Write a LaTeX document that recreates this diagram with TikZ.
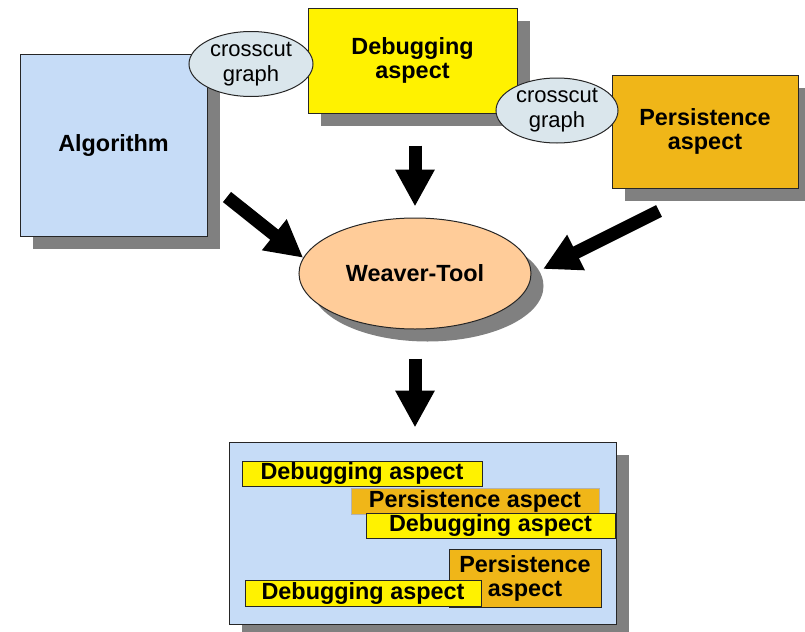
\documentclass[tikz,border=0pt]{standalone}
\usepackage{fontspec}
\setmainfont{Liberation Sans}
\usetikzlibrary{arrows.meta,shapes.geometric,shadows}
\definecolor{algblue}{RGB}{198,220,247}
\definecolor{cutgray}{RGB}{218,230,236}
\definecolor{persorange}{RGB}{240,182,24}
\definecolor{weavepeach}{RGB}{255,204,153}
\definecolor{shadowgray}{RGB}{128,128,128}

\begin{document}
\begin{tikzpicture}[x=0.5pt,y=-0.5pt,line cap=butt,
  font=\fontsize{11.7}{12}\selectfont\bfseries,
  box/.style={draw=black!85,line width=0.5pt,inner sep=0pt,align=center,
    drop shadow={shadow xshift=6.25pt,shadow yshift=-6.25pt,fill=shadowgray,opacity=1}},
  cut/.style={ellipse,draw=black!85,fill=cutgray,line width=0.5pt,inner sep=0pt,align=center,
    font=\fontsize{11}{12.5}\selectfont\mdseries},
  tag/.style={draw=black!85,line width=0.5pt,inner sep=0pt,align=center},
  bigarrow/.style={line width=6.5pt,-{Triangle[length=18.5pt,width=18.5pt]}}]
\useasboundingbox (0,0) rectangle (805,632);
% inputs
\node[box,fill=algblue,minimum width=93.5pt,minimum height=91pt] (algo) at (113.5,145) {Algorithm};
\node[box,fill=yellow,minimum width=104.5pt,minimum height=52.5pt] (dbg) at (412.5,60.5) {Debugging\\aspect};
\node[box,fill=persorange,minimum width=93pt,minimum height=56.5pt] (pers) at (705,131.5) {Persistence\\aspect};
\node[cut,minimum width=62pt,minimum height=32.5pt] (cut1) at (251,64) {crosscut\\graph};
\node[cut,minimum width=61pt,minimum height=32.5pt] (cut2) at (557,110.5) {crosscut\\graph};
% weaver
\node[box,ellipse,fill=weavepeach,minimum width=116pt,minimum height=55.5pt] (weaver) at (415,273.5) {Weaver-Tool};
% woven result
\node[box,fill=algblue,minimum width=193.5pt,minimum height=91pt] (result) at (422.5,533) {};
\node[tag,fill=yellow,minimum width=120pt,minimum height=12.5pt] (dbg1) at (362,473.5) {Debugging aspect};
\node[tag,draw=black!30,fill=persorange,minimum width=124pt,minimum height=13pt] (pers1) at (475,501) {Persistence aspect};
\node[tag,fill=yellow,minimum width=124.5pt,minimum height=12.5pt] (dbg2) at (490.5,525.5) {Debugging aspect};
\node[tag,fill=persorange,minimum width=76pt,minimum height=29pt] (pers2) at (525,578) {Persistence\\aspect};
\node[tag,fill=yellow,minimum width=118pt,minimum height=13pt] (dbg3) at (363,593) {Debugging aspect};
% arrows
\coordinate (algtail) at (227,197);
\coordinate (perstail) at (659,211);
\coordinate (perstip) at (543,269);
\draw[bigarrow] (algtail) -- (weaver.172);
\draw[bigarrow] (perstail) -- (perstip);
\draw[bigarrow,shorten <=16pt,shorten >=5.5pt] (dbg.south -| weaver.north) -- (weaver.north);
\draw[bigarrow,shorten <=14.5pt,shorten >=7pt] (weaver.south) -- (weaver.south |- result.north);
\end{tikzpicture}
\end{document}
